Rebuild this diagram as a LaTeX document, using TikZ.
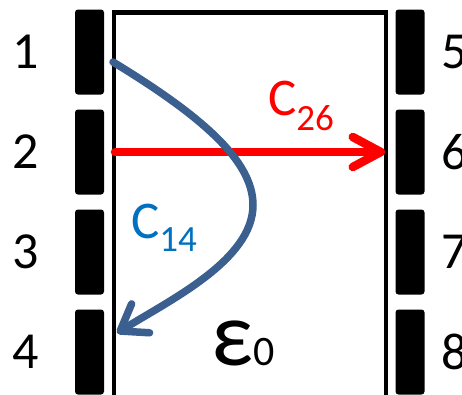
\documentclass[tikz,border=0pt]{standalone}
\usepackage{fontspec}
\setmainfont{Carlito}
\usepackage{tikz}
\usetikzlibrary{positioning,arrows.meta,calc}
\definecolor{chanRed}{HTML}{FF0000}
\definecolor{chanBlue}{HTML}{3B5F8E}
\definecolor{labelBlue}{HTML}{0070C0}

\begin{document}
\begin{tikzpicture}[x=1pt, y=-1pt,
  pad/.style={fill=black, rounded corners=3pt, minimum width=29pt, minimum height=85pt, inner sep=0pt},
  pinnum/.style={font=\fontsize{52}{60}\selectfont, inner sep=0pt},
  chan/.style={line width=8.5pt, line cap=round}]
  \useasboundingbox (0,0) rectangle (462,394);

  % package outline
  \draw[line width=4.5pt] (114,430) |- (386,12.5) -- (386,430);

  % pins, left and right
  \foreach \i/\y in {1/52,2/152,3/252,4/352} {
    \node[pad] (pad\i) at (89.5,\y) {};
    \node[pinnum] (num\i) at (26,\y) {\i};
  }
  \foreach \i/\y in {5/52,6/152,7/252,8/352} {
    \node[pad] (pad\i) at (410,\y) {};
    \node[pinnum] (num\i) at (455,\y) {\i};
  }

  \coordinate (in1) at (113,62);
  \coordinate (in2) at (115,152);
  \coordinate (out6) at (385,152);
  \coordinate (out4) at (117,333);

  % channels
  \draw[chan, chanRed, -{Straight Barb[length=28pt,width=30pt,round]}] (in2) -- (out6);
  \draw[chan, line width=7.5pt, chanBlue, -{Straight Barb[length=24pt,width=34pt,round]}]
    (in1) .. controls (200,115) and (253,160) .. (253,205)
          .. controls (253,260) and (170,300) .. (out4);

  \node[font=\fontsize{53}{60}\selectfont, text=chanRed, anchor=base west, inner sep=0pt] (c26) at (268,115)
    {C\raisebox{-15pt}{\fontsize{37}{40}\selectfont 26}};
  \node[font=\fontsize{53}{60}\selectfont, text=labelBlue, anchor=base west, inner sep=0pt] (c14) at (131,238)
    {C\raisebox{-13pt}{\fontsize{37}{40}\selectfont 14}};
  \node[anchor=base west, inner sep=0pt] (eps) at (211,365)
    {\fontsize{92}{100}\selectfont ε\fontsize{42}{50}\selectfont 0};
\end{tikzpicture}
\end{document}
